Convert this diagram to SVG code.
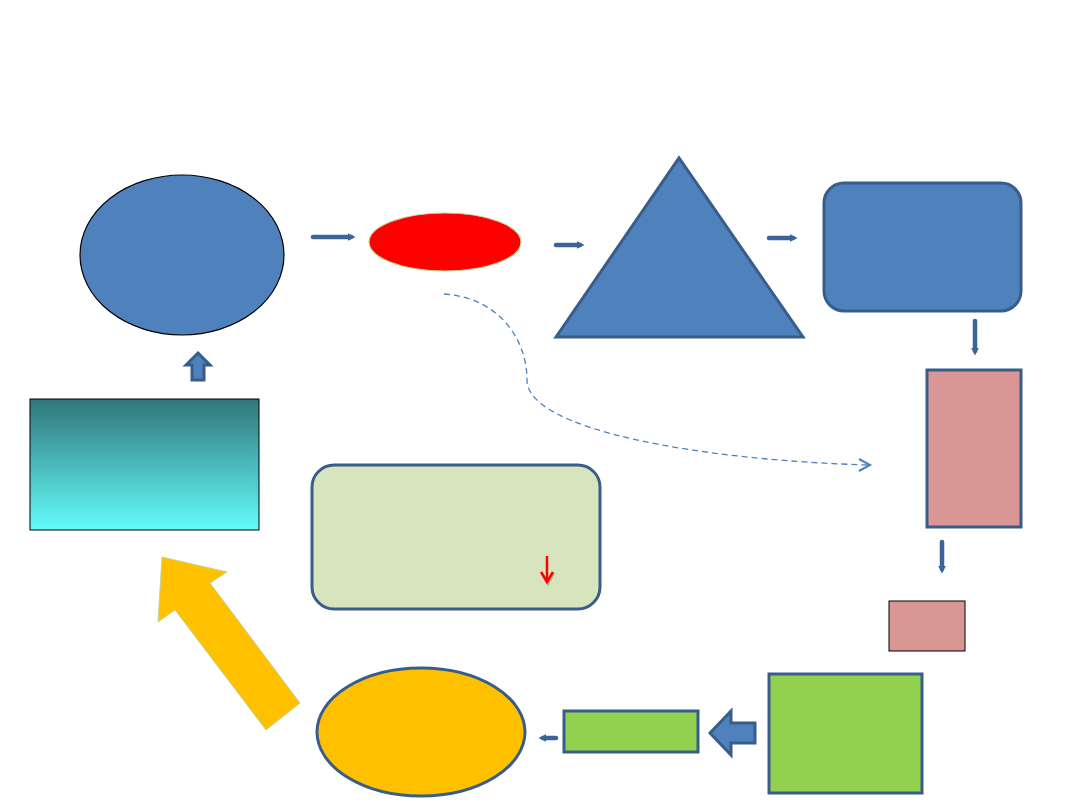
<svg xmlns="http://www.w3.org/2000/svg" width="1080" height="810" viewBox="0 0 1080 810">
<style>
.blue{fill:#4F81BD;stroke:#385D8A;stroke-width:3}
.thin{stroke:#3C6496;stroke-width:4.5;stroke-linecap:round;fill:none}
</style>
<defs>
<linearGradient id="teal" x1="0" y1="0" x2="0" y2="1">
<stop offset="0" stop-color="#31777A"/>
<stop offset="1" stop-color="#63FBFB"/>
</linearGradient>
<marker id="ah" viewBox="0 0 10 10" refX="4" refY="5" markerWidth="1.7" markerHeight="1.9" orient="auto">
<path d="M0,0 L10,5 L0,10 z" fill="#3C6496"/>
</marker>
</defs>
<rect width="1080" height="810" fill="#FFFFFF"/>

<g id="node-circle"><ellipse cx="182" cy="255" rx="102" ry="80" fill="#4F81BD" stroke="#000" stroke-width="1.2"/></g>
<g id="node-red"><ellipse cx="445" cy="242" rx="76" ry="29" fill="#FF0000" stroke="#C3D69B" stroke-width="1.2"/></g>
<g id="node-triangle"><polygon class="blue" points="556,337 679,158 803,337"/></g>
<g id="node-roundrect"><rect class="blue" x="824" y="183" width="197" height="128" rx="20"/></g>
<g id="node-pink"><rect x="927" y="370" width="94" height="157" fill="#D99694" stroke="#385D8A" stroke-width="3"/></g>
<g id="node-pink-small"><rect x="889" y="601" width="76" height="50" fill="#D99694" stroke="#000" stroke-width="1"/></g>
<g id="node-green-big"><rect x="769" y="674" width="153" height="119" fill="#92D050" stroke="#385D8A" stroke-width="3"/></g>
<g id="node-green-small"><rect x="564" y="711" width="134" height="41" fill="#92D050" stroke="#385D8A" stroke-width="3"/></g>
<g id="node-orange"><ellipse cx="421" cy="732" rx="104" ry="64" fill="#FFC000" stroke="#385D8A" stroke-width="3"/></g>
<g id="node-lightgreen"><rect x="312" y="465" width="288" height="144" rx="22" fill="#D7E4BD" stroke="#385D8A" stroke-width="3"/></g>
<g id="node-teal"><rect x="30" y="399" width="229" height="131" fill="url(#teal)" stroke="#000" stroke-width="1"/></g>

<g id="connectors">
<line class="thin" x1="313" y1="237" x2="351" y2="237" marker-end="url(#ah)"/>
<line class="thin" x1="556" y1="245" x2="580" y2="245" marker-end="url(#ah)"/>
<line class="thin" x1="769" y1="238" x2="793" y2="238" marker-end="url(#ah)"/>
<line class="thin" x1="975" y1="321" x2="975" y2="351" marker-end="url(#ah)"/>
<line class="thin" x1="942" y1="542" x2="942" y2="569" marker-end="url(#ah)"/>
<line class="thin" x1="556" y1="738" x2="543" y2="738" marker-end="url(#ah)"/>
<path d="M444,294 C500,298 527,340 527,380 C527,430 700,460 868,465" fill="none" stroke="#4F81BD" stroke-width="1.3" stroke-dasharray="6,4"/>
<polyline points="859,459 870,465 859,471" fill="none" stroke="#4F81BD" stroke-width="2"/>
<g id="red-arrow">
<polyline points="542,573 548,584 554,573" fill="none" stroke="#7F9F7F" stroke-width="2.5" opacity="0.6"/>
<line x1="547" y1="556" x2="547" y2="582" stroke="#FF0000" stroke-width="2.5"/>
<polyline points="541,572 547,582 553,572" fill="none" stroke="#FF0000" stroke-width="2.5"/>
</g>
<polygon class="blue" points="198,353 210,365 204,365 204,380 192,380 192,365 186,365" stroke-width="2.5"/>
<polygon class="blue" points="710,733 731,711 731,723 755,723 755,743 731,743 731,755"/>
<polygon points="162,557 227,572 210,583 300,703 266,730 175,610 158,622" fill="#FFC000" stroke="#C3D69B" stroke-width="1"/>
</g>
</svg>
